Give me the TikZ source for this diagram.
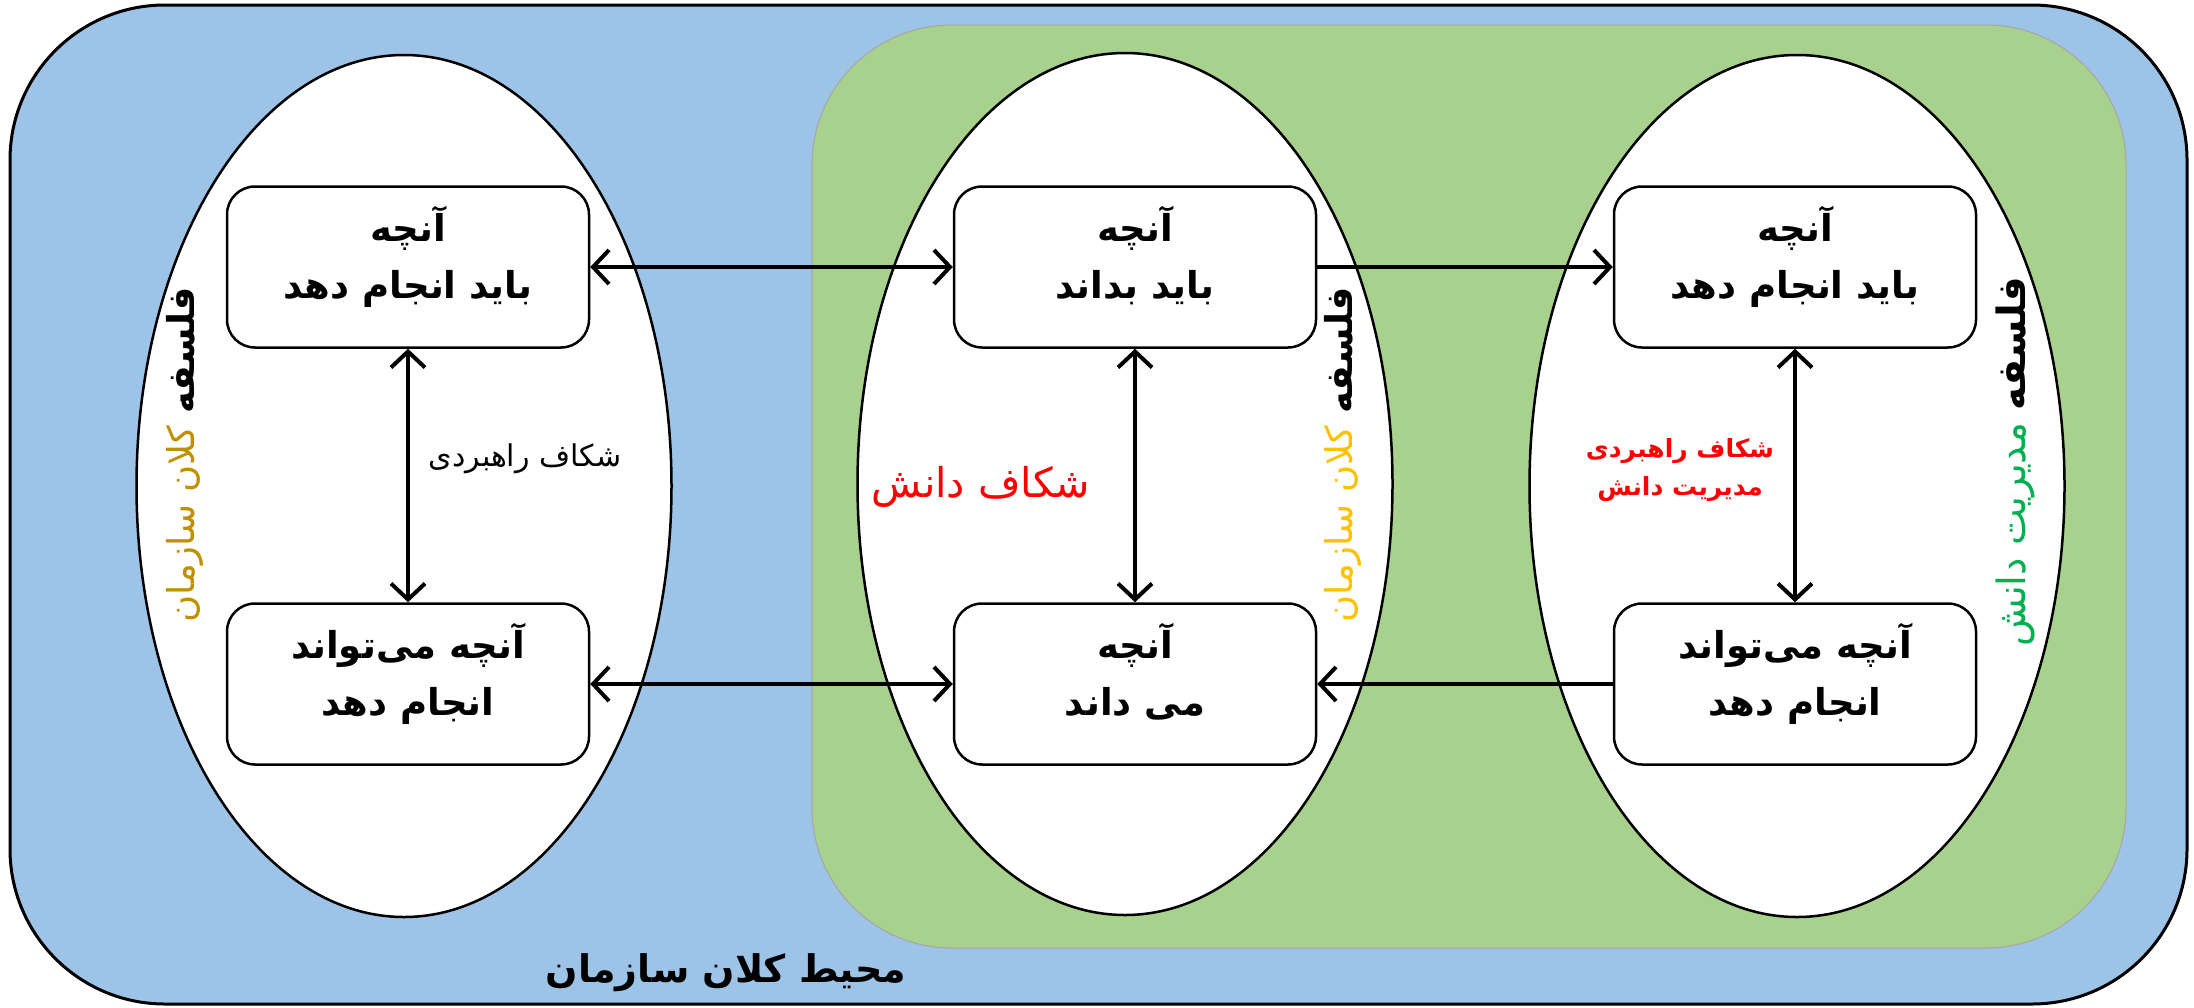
\documentclass[tikz,border=0pt]{standalone}
\usepackage{fontspec}
\usepackage{xcolor}
\usetikzlibrary{positioning,arrows.meta,shapes.geometric}
\TeXXeTstate=1
\newfontfamily\arabicfont[Script=Arabic]{DejaVu Sans}
\definecolor{envblue}{HTML}{9DC3E6}
\definecolor{kmgreen}{HTML}{A9D18E}
\definecolor{darkgold}{HTML}{BF9000}
\definecolor{amber}{HTML}{FFC000}
\definecolor{kmtext}{HTML}{00B050}

\begin{document}
\begin{tikzpicture}[x=1pt,y=-1pt,
    >={Straight Barb[length=16pt,width=34pt]},
    box/.style={draw, line width=2.5pt, rounded corners=28pt, fill=white,
        minimum width=362pt, minimum height=161pt, align=center, text depth=30pt,
        font=\arabicfont\bfseries\fontsize{37}{57}\selectfont},
    oval/.style={draw, ellipse, line width=2.5pt, fill=white,
        minimum width=535pt, minimum height=862pt},
    link/.style={line width=4pt},
    side/.style={rotate=90, font=\arabicfont\fontsize{37}{44}\selectfont}]
    \useasboundingbox (0,0) rectangle (2194,1007);

    % environment and knowledge management areas
    \draw[fill=envblue, line width=3pt, rounded corners=155pt] (10,5) rectangle (2187,1004);
    \draw[fill=kmgreen, draw=gray!70, line width=1pt, rounded corners=140pt] (812,25) rectangle (2126,948);

    % three views
    \node[oval] (ovL) at (404,486) {};
    \node[oval] (ovM) at (1125,484) {};
    \node[oval] (ovR) at (1797,486) {};

    % boxes
    \node[box] (doL) at (408,267) {\beginR آنچه\endR\\\beginR باید انجام دهد\endR};
    \node[box] (canL) at (408,684) {\beginR آنچه می^^^^200cتواند\endR\\\beginR انجام دهد\endR};
    \node[box] (knowM) at (1135,267) {\beginR آنچه\endR\\\beginR باید بداند\endR};
    \node[box] (knowsM) at (1135,684) {\beginR آنچه\endR\\\beginR می داند\endR};
    \node[box] (doR) at (1795,267) {\beginR آنچه\endR\\\beginR باید انجام دهد\endR};
    \node[box] (canR) at (1795,684) {\beginR آنچه می^^^^200cتواند\endR\\\beginR انجام دهد\endR};

    % connectors
    \draw[link, <->] (doL) -- (knowM);
    \draw[link, ->] (knowM) -- (doR);
    \draw[link, <->] (canL) -- (knowsM);
    \draw[link, ->] (canR) -- (knowsM);
    \draw[link, <->] (doL) -- (canL);
    \draw[link, <->] (knowM) -- (knowsM);
    \draw[link, <->] (doR) -- (canR);

    % gap labels
    \node[font=\arabicfont\fontsize{30}{36}\selectfont] (gapL) at (525,459) {\beginR شکاف راهبردی\endR};
    \node[text=red, font=\arabicfont\fontsize{41}{48}\selectfont] (gapM) at (981,487) {\beginR شکاف دانش\endR};
    \node[text=red, align=center, font=\arabicfont\bfseries\fontsize{25}{38}\selectfont] (gapR) at (1680,470)
        {\beginR شکاف راهبردی\endR\\\beginR مدیریت دانش\endR};

    % philosophies
    \node[side] (philL) at (185,455) {{\color{darkgold}\beginR کلان سازمان\endR}\ \beginR{\bfseries فلسفه}\endR};
    \node[side] (philM) at (1343,455) {{\color{amber}\beginR کلان سازمان\endR}\ \beginR{\bfseries فلسفه}\endR};
    \node[side, font=\arabicfont\fontsize{39}{46}\selectfont] (philR) at (2015,462) {{\color{kmtext}\beginR مدیریت دانش\endR}\ \beginR{\bfseries فلسفه}\endR};

    \node[font=\arabicfont\bfseries\fontsize{38}{46}\selectfont] (title) at (726,973) {\beginR محیط کلان سازمان\endR};
\end{tikzpicture}
\end{document}
